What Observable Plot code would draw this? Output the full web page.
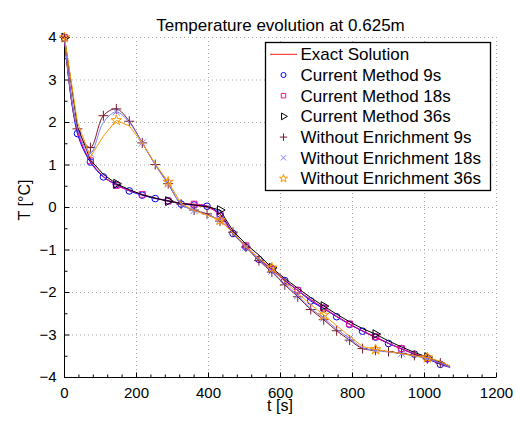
<!DOCTYPE html>
<html><head><meta charset="utf-8">
<script src="https://cdn.jsdelivr.net/npm/d3@7"></script>
<script src="https://cdn.jsdelivr.net/npm/@observablehq/plot@0.6"></script>
<style>
body{margin:0;background:#fff}
svg{font-family:"Liberation Sans",Arial,sans-serif}
</style>
</head><body><div id="chart"></div>
<script>
// ---- data ----
const times = [0,36,72,108,144,180,216,252,288,324,360,396,432,468,504,540,576,612,648,684,720,756,792,828,864,900,936,972,1008,1044,1070];
const exactSolution = [4,1.8,1.08,0.73,0.54,0.4,0.3,0.22,0.16,0.1,0.05,0.0,-0.15,-0.6,-0.93,-1.22,-1.47,-1.72,-1.95,-2.17,-2.37,-2.56,-2.74,-2.91,-3.06,-3.2,-3.33,-3.45,-3.56,-3.67,-3.75];
const current9 = [4,1.74,1.07,0.72,0.54,0.39,0.29,0.21,0.16,0.08,0.06,0.03,-0.15,-0.61,-0.93,-1.22,-1.46,-1.72,-1.95,-2.2,-2.38,-2.57,-2.75,-2.91,-3.05,-3.2,-3.32,-3.45,-3.56,-3.69,-3.76];
const current18 = [4,1.8,1.1,0.73,0.52,0.4,0.31,0.22,0.15,0.1,0.08,0.04,-0.2,-0.6,-0.9,-1.2,-1.45,-1.7,-1.95,-2.17,-2.36,-2.56,-2.74,-2.9,-3.04,-3.19,-3.32,-3.44,-3.55,-3.67,-3.75];
const current36 = [4,1.9,1.12,0.78,0.56,0.42,0.3,0.22,0.15,0.1,0.06,0.02,-0.06,-0.55,-0.86,-1.12,-1.42,-1.67,-1.9,-2.12,-2.32,-2.51,-2.69,-2.85,-2.98,-3.14,-3.28,-3.41,-3.52,-3.64,-3.73];
const without9 = [4,1.85,1.41,2.16,2.32,2.03,1.52,1.01,0.56,0.08,-0.06,-0.15,-0.32,-0.58,-0.93,-1.25,-1.52,-1.82,-2.1,-2.4,-2.64,-2.9,-3.12,-3.32,-3.36,-3.39,-3.43,-3.48,-3.56,-3.66,-3.75];
const without18 = [4,1.85,1.28,2.0,2.25,2.0,1.52,1.0,0.55,0.08,-0.07,-0.17,-0.3,-0.6,-0.93,-1.23,-1.5,-1.8,-2.07,-2.37,-2.6,-2.86,-3.08,-3.3,-3.36,-3.4,-3.44,-3.49,-3.56,-3.66,-3.75];
const without36 = [4,2.0,1.19,1.68,2.05,1.92,1.52,1.03,0.6,0.1,-0.07,-0.18,-0.3,-0.6,-0.92,-1.2,-1.42,-1.75,-2.02,-2.28,-2.53,-2.78,-3.03,-3.27,-3.34,-3.39,-3.44,-3.49,-3.53,-3.62,-3.73];
const seriesNames = ["Exact Solution","Current Method 9s","Current Method 18s","Current Method 36s","Without Enrichment 9s","Without Enrichment 18s","Without Enrichment 36s"];
const markerEvery = [0,36,72,144,36,72,144];   // marker spacing in seconds (0 = none)
const xTicks = [0,200,400,600,800,1000,1200];
const yTicks = [-4,-3,-2,-1,0,1,2,3,4];
const xMinorTicks = [40,80,120,160,240,280,320,360,440,480,520,560,640,680,720,760,840,880,920,960,1040,1080,1120,1160];
const yMinorTicks = [-3.5,-2.5,-1.5,-0.5,0.5,1.5,2.5,3.5];
const titleText = "Temperature evolution at 0.625m";
const xLabel = "t [s]";
const yLabel = "T [°C]";

// ---- styles ----
const valuesList = [exactSolution,current9,current18,current36,without9,without18,without36];
const styles = [
  {color:"#ff1a1a", symbol:null, curve:"catmull-rom"},
  {color:"#0000ff", symbol:"circle", curve:"catmull-rom"},
  {color:"#e8149a", symbol:"square", curve:"catmull-rom"},
  {color:"#000000", symbol:"triangle", rotate:90, curve:"linear"},
  {color:"#7a1c2c", symbol:"plus", curve:"catmull-rom"},
  {color:"#7f7fff", symbol:"times", curve:"catmull-rom"},
  {color:"#ff9900", symbol:"star", curve:"linear"}
];

const fmt = d => d < 0 ? "\u2212" + (-d) : String(d);
const tickSym = (dx, dy) => ({draw(ctx){ctx.moveTo(0,0); ctx.lineTo(dx,dy);}});

const marks = [
  Plot.ruleX(xTicks, {stroke:"#a8a8a8", strokeDasharray:"1,3"}),
  Plot.ruleY(yTicks, {stroke:"#a8a8a8", strokeDasharray:"1,3"}),
  Plot.ruleX([0], {stroke:"black"}),
  Plot.ruleY([-4], {stroke:"black"}),
  Plot.dot(xTicks, {x:d=>d, frameAnchor:"bottom", symbol:tickSym(0,-5), fill:"none", stroke:"black", strokeWidth:1}),
  Plot.dot(xMinorTicks, {x:d=>d, frameAnchor:"bottom", symbol:tickSym(0,-3), fill:"none", stroke:"black", strokeWidth:1}),
  Plot.dot(yTicks, {y:d=>d, frameAnchor:"left", symbol:tickSym(5,0), fill:"none", stroke:"black", strokeWidth:1}),
  Plot.dot(yMinorTicks, {y:d=>d, frameAnchor:"left", symbol:tickSym(3,0), fill:"none", stroke:"black", strokeWidth:1}),
  Plot.axisX({ticks:xTicks, tickSize:0, tickPadding:10, fontSize:15, tickFormat:fmt, label:null}),
  Plot.axisY({ticks:yTicks, tickSize:0, tickPadding:8, fontSize:15, tickFormat:fmt, label:null}),
  Plot.text([titleText], {frameAnchor:"top", dx:0, dy:-19, fontSize:17, fill:"black", textAnchor:"middle"})
];

valuesList.forEach((vals, i) => {
  const st = styles[i];
  const rows = times.map((t, j) => ({t, T: vals[j]}));
  marks.push(Plot.line(rows, {x:"t", y:"T", stroke:st.color, strokeWidth:1, curve:st.curve}));
  if (markerEvery[i] > 0) {
    const pts = rows.filter(r => r.t % markerEvery[i] === 0);
    marks.push(Plot.dot(pts, {x:"t", y:"T", symbol:st.symbol, rotate:st.rotate || 0, r:3.3,
      stroke:st.color, fill:"none", strokeWidth:1}));
  }
});

const chart = Plot.plot({
  width:516, height:423,
  marginLeft:64, marginRight:20, marginTop:37, marginBottom:46,
  x:{domain:[0,1200]},
  y:{domain:[-4,4]},
  style:{fontFamily:"'Liberation Sans', Arial, sans-serif", fontSize:"15px", color:"black", background:"white"},
  marks
});
document.getElementById("chart").appendChild(chart);

const svg = d3.select(chart);
// ---- axis labels ----
svg.append("text").attr("x",280).attr("y",411).attr("text-anchor","middle")
  .attr("font-size",16).attr("fill","black").text(xLabel);
svg.append("text").attr("transform","translate(30,200) rotate(-90)").attr("text-anchor","middle")
  .attr("font-size",16).attr("fill","black").text(yLabel);

// ---- legend ----
const lg = svg.append("g").attr("text-anchor","start");
lg.append("rect").attr("x",265.5).attr("y",42.5).attr("width",225).attr("height",148)
  .attr("fill","white").attr("stroke","black").attr("stroke-width",1.3);
const symMap = {circle:d3.symbolCircle, square:d3.symbolSquare, triangle:d3.symbolTriangle,
  plus:d3.symbolPlus, times:d3.symbolTimes, star:d3.symbolStar};
seriesNames.forEach((name, i) => {
  const st = styles[i];
  const cy = 54.3 + i * 20.7;
  if (!st.symbol) {
    lg.append("line").attr("x1",270).attr("x2",297).attr("y1",cy).attr("y2",cy)
      .attr("stroke",st.color).attr("stroke-width",1);
  } else {
    lg.append("path").attr("d", d3.symbol().type(symMap[st.symbol]).size(20)())
      .attr("transform",`translate(283.5,${cy}) rotate(${st.rotate||0})`)
      .attr("fill","none").attr("stroke",st.color).attr("stroke-width",1);
  }
  lg.append("text").attr("x",300.5).attr("y",cy).attr("dy","0.35em")
    .attr("font-size",17).attr("fill","black").text(name);
});
</script>
</body></html>
